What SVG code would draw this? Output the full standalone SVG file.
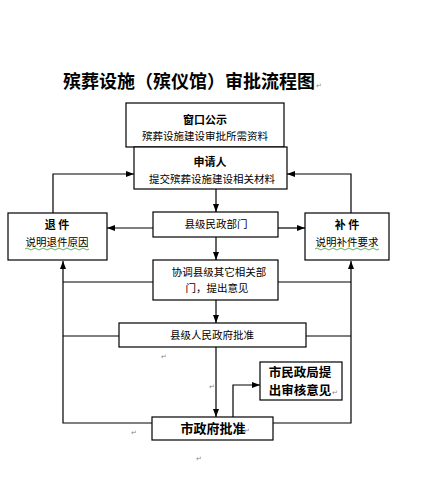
<svg xmlns="http://www.w3.org/2000/svg" width="442" height="493" viewBox="0 0 442 493">
<style>
.box{fill:#fff;stroke:#000;stroke-width:1.2}
.ln{fill:none;stroke:#000;stroke-width:1.2}
.t{font-family:"Noto Sans CJK SC","Noto Sans CJK JP",sans-serif;font-size:10.5px;fill:#000;text-anchor:middle}
.b{font-weight:bold;font-size:11px}
.big{font-weight:bold;font-size:13px}
.big2{font-weight:bold;font-size:12.5px}
.pm{font-family:"DejaVu Sans",sans-serif;font-size:7px;fill:#888}
.wave{fill:none;stroke:#3a9a3a;stroke-width:0.8}
</style>
<defs>
<marker id="ah" viewBox="0 0 8 6" refX="8" refY="3" markerWidth="8" markerHeight="6" markerUnits="userSpaceOnUse" orient="auto">
<path d="M0,0 L8,3 L0,6 z" fill="#000"/>
</marker>
</defs>
<rect width="442" height="493" fill="#fff"/>
<text x="63" y="88" font-family="Noto Sans CJK SC, sans-serif" font-size="18" font-weight="bold" fill="#000">殡葬设施（殡仪馆）审批流程图</text>
<text x="316" y="88" class="pm" font-size="9">↵</text>

<g id="connectors">
<line class="ln" x1="216" y1="189" x2="216" y2="212" marker-end="url(#ah)"/>
<line class="ln" x1="153" y1="228" x2="107" y2="228" marker-end="url(#ah)"/>
<line class="ln" x1="278" y1="228" x2="305" y2="228" marker-end="url(#ah)"/>
<line class="ln" x1="216" y1="237" x2="216" y2="260" marker-end="url(#ah)"/>
<line class="ln" x1="216" y1="300" x2="216" y2="323" marker-end="url(#ah)"/>
<line class="ln" x1="216" y1="347" x2="216" y2="417" marker-end="url(#ah)"/>
<polyline class="ln" points="233,417 233,385 260,385" marker-end="url(#ah)"/>
<polyline class="ln" points="53,213 53,174 134,174" marker-end="url(#ah)"/>
<polyline class="ln" points="351,213 351,174 287,174" marker-end="url(#ah)"/>
<polyline class="ln" points="152,423 63,423 63,261" marker-end="url(#ah)"/>
<line class="ln" x1="153" y1="282" x2="63" y2="282"/>
<line class="ln" x1="119" y1="336" x2="63" y2="336"/>
<polyline class="ln" points="273,423 351,423 351,261" marker-end="url(#ah)"/>
<line class="ln" x1="278" y1="282" x2="351" y2="282"/>
<line class="ln" x1="306" y1="336" x2="351" y2="336"/>
</g>

<g id="n-window">
<rect class="box" x="126" y="103" width="158" height="44"/>
<text class="t b" x="205" y="124">窗口公示</text>
<text class="t" x="205" y="140">殡葬设施建设审批所需资料</text>
</g>
<g id="n-applicant">
<rect class="box" x="134" y="147" width="153" height="42"/>
<text class="t b" x="210" y="166">申请人</text>
<text class="t" x="212" y="183">提交殡葬设施建设相关材料</text>
</g>
<g id="n-return">
<rect class="box" x="8" y="213" width="99" height="47"/>
<text class="t b" x="57" y="229">退 件</text>
<text class="t" x="57" y="246">说明退件原因</text>
<path class="wave" d="M25,249 q2,-2 4,0 t4,0 t4,0 t4,0 t4,0 t4,0 t4,0 t4,0 t4,0 t4,0 t4,0 t4,0 t4,0 t4,0 t4,0 t4,0"/>
</g>
<g id="n-supplement">
<rect class="box" x="305" y="213" width="84" height="47"/>
<text class="t b" x="347" y="229">补 件</text>
<text class="t" x="347" y="246">说明补件要求</text>
<path class="wave" d="M315,249 q2,-2 4,0 t4,0 t4,0 t4,0 t4,0 t4,0 t4,0 t4,0 t4,0 t4,0 t4,0 t4,0 t4,0 t4,0 t4,0 t4,0"/>
</g>
<g id="n-county-civil">
<rect class="box" x="153" y="212" width="125" height="25"/>
<text class="t" x="216" y="228">县级民政部门</text>
</g>
<g id="n-coordinate">
<rect class="box" x="153" y="260" width="125" height="40"/>
<text class="t" x="219" y="276">协调县级其它相关部</text>
<text class="t" x="217" y="292">门，提出意见</text>
</g>
<g id="n-county-gov">
<rect class="box" x="119" y="323" width="187" height="24"/>
<text class="t" x="212" y="339">县级人民政府批准</text>
</g>
<g id="n-city-civil">
<rect class="box" x="260" y="362" width="82" height="38"/>
<text class="t big2" x="300" y="377">市民政局提</text>
<text class="t big2" x="300" y="395">出审核意见</text>
<text x="332" y="395" class="pm" font-size="8">↵</text>
</g>
<g id="n-city-gov">
<rect class="box" x="152" y="417" width="121" height="23"/>
<text class="t big" x="213" y="433">市政府批准</text>
<text x="244" y="433" class="pm" font-size="8">↵</text>
</g>
<text x="161" y="359" class="pm">↵</text>
<text x="209" y="389" class="pm">↵</text>
<text x="131" y="435" class="pm">↵</text>
<text x="196" y="461" class="pm" font-size="9">↵</text>
</svg>
